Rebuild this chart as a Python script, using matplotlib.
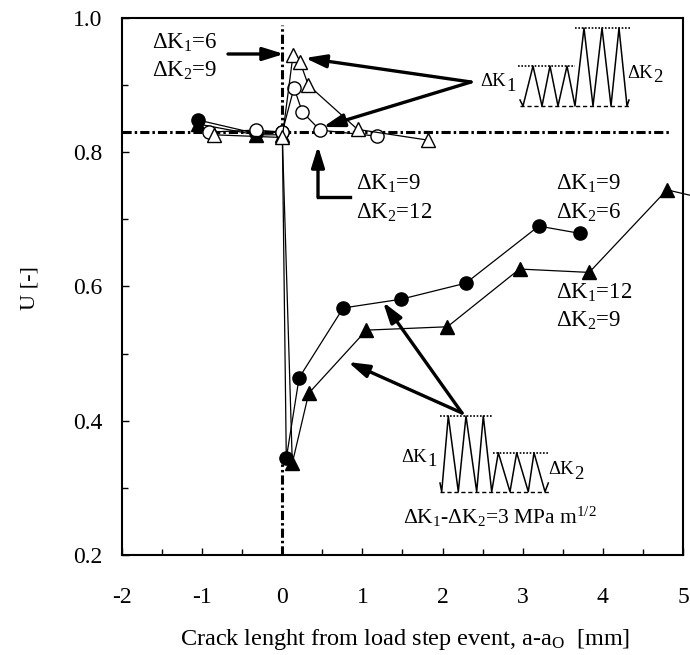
import matplotlib
matplotlib.use('Agg')
import matplotlib.pyplot as plt
import matplotlib.transforms as mtransforms
from matplotlib.patches import FancyArrowPatch
from matplotlib.ticker import MultipleLocator

plt.rcParams['font.family'] = ['Liberation Serif', 'DejaVu Serif']
plt.rcParams['mathtext.fontset'] = 'custom'
plt.rcParams['mathtext.rm'] = 'Liberation Serif'
plt.rcParams['mathtext.it'] = 'Liberation Serif:italic'
plt.rcParams['mathtext.bf'] = 'Liberation Serif:bold'

# ---------------- data ----------------
# filled circles: dK1=9, dK2=6
fc_x = [-1.05, -0.33, 0.0, 0.05, 0.21, 0.76, 1.48, 2.29, 3.20, 3.72]
fc_y = [0.848, 0.828, 0.830, 0.344, 0.464, 0.568, 0.581, 0.605, 0.690, 0.679]
# filled triangles: dK1=12, dK2=9
ft_x = [-1.05, -0.33, 0.0, 0.125, 0.33, 1.05, 2.06, 2.96, 3.83, 4.80, 5.30]
ft_y = [0.842, 0.826, 0.826, 0.337, 0.441, 0.535, 0.540, 0.626, 0.621, 0.744, 0.730]
# open circles: dK1=9, dK2=12
oc_x = [-0.92, -0.33, 0.0, 0.146, 0.25, 0.47, 1.18]
oc_y = [0.830, 0.833, 0.830, 0.896, 0.860, 0.833, 0.824]
# open triangles: dK1=6, dK2=9
ot_x = [-0.85, 0.0, 0.134, 0.22, 0.325, 0.94, 1.82]
ot_y = [0.826, 0.822, 0.945, 0.935, 0.900, 0.834, 0.818]

u_ref = 0.83
x_ticks = [-2, -1, 0, 1, 2, 3, 4, 5]
y_ticks = [0.2, 0.4, 0.6, 0.8, 1.0]

FS_TICK = 17
FS_ANN = 16.5
FS_SCH = 13.5

fig = plt.figure(figsize=(6.9, 6.55), dpi=100)
fig.patch.set_facecolor('white')
ax = fig.add_axes([122/690, 1-555/655, 561/690, 537/655])
# pixel transform for decorations (origin top-left)
pix = mtransforms.Affine2D().scale(1/690, -1/655).translate(0, 1) + fig.transFigure

ax.set_xlim(-2, 5)
ax.set_ylim(0.2, 1.0)

# reference dash-dot lines
dd = (0, (3, 1, 0.8, 1))
ax.plot([-2, 4.84], [u_ref, u_ref], color='black', lw=2.2, linestyle=dd, zorder=1)
ax.plot([0, 0], [0.2, 0.335], color='black', lw=2.2, linestyle=dd, zorder=1)
ax.plot([0, 0], [u_ref, 0.99], color='black', lw=2.2, linestyle=dd, zorder=1)

# series
ax.plot(fc_x, fc_y, color='black', lw=0.9, marker='o', ms=9.5, mfc='black', mec='black', zorder=3)
ax.plot(ft_x, ft_y, color='black', lw=0.9, marker='^', ms=10, mfc='black', mec='black', zorder=3, clip_on=False)
ax.plot(oc_x, oc_y, color='black', lw=0.9, marker='o', ms=9.5, mfc='white', mec='black', mew=1.0, zorder=4)
ax.plot(ot_x, ot_y, color='black', lw=0.9, marker='^', ms=10, mfc='white', mec='black', mew=1.0, zorder=5)

# axes style
for s in ax.spines.values():
    s.set_linewidth(1.5)
ax.set_xticks(x_ticks)
ax.set_xticklabels([str(v) for v in x_ticks])
ax.set_yticks(y_ticks)
ax.set_yticklabels(['%.1f' % v for v in y_ticks])
ax.xaxis.set_minor_locator(MultipleLocator(0.5))
ax.yaxis.set_minor_locator(MultipleLocator(0.1))
ax.tick_params(axis='both', which='both', direction='in', width=1.0, labelsize=FS_TICK)
ax.tick_params(axis='both', which='major', length=5)
ax.tick_params(axis='both', which='minor', length=4.5)
ax.tick_params(axis='x', which='major', pad=23)
ax.tick_params(axis='y', which='major', pad=14)

fig.text(30, 288, 'U [-]', transform=pix, rotation=90, ha='center', va='center', fontsize=16)
fig.text(405, 639, 'Crack lenght from load step event, a-a$_\\mathrm{O}$  [mm]', transform=pix,
         ha='center', va='center', fontsize=17.5)

# annotation texts
def txt(x, y, s, size=FS_ANN, **kw):
    return fig.text(x, y, s, transform=pix, fontsize=size, **kw)

txt(152, 57, 'ΔK$_1$=6\nΔK$_2$=9', ha='left', va='center', linespacing=1.3)
txt(356, 198, 'ΔK$_1$=9\nΔK$_2$=12', ha='left', va='center', linespacing=1.38)
txt(556, 198, 'ΔK$_1$=9\nΔK$_2$=6', ha='left', va='center', linespacing=1.38)
txt(556, 307, 'ΔK$_1$=12\nΔK$_2$=9', ha='left', va='center', linespacing=1.3)
txt(500, 517, 'ΔK$_1$-ΔK$_2$=3 MPa m$^{1/2}$', size=15.5, ha='center', va='center')


def dk_label(x, y, sub):
    t = txt(x, y, 'ΔK', size=FS_SCH, ha='left', va='center')
    ax.annotate(sub, xy=(1, 0.5), xycoords=t, xytext=(0.4, -3.5), textcoords='offset points',
                fontsize=FS_SCH, ha='left', va='center', annotation_clip=False)

# schematic labels
dk_label(480, 82, '1')
dk_label(627, 73, '2')
dk_label(401, 457, '1')
dk_label(548, 470, '2')

# schematic waveforms (pixel coordinates of decoration)
up_wx = [520, 523, 533, 542, 550, 558, 567, 575, 584, 593, 602, 611, 619, 627, 629]
up_wy = [100, 106, 66, 106, 66, 106, 66, 106, 28, 106, 28, 106, 28, 106, 100]
fig.add_artist(plt.Line2D(up_wx, up_wy, transform=pix, color='black', lw=1.1))
fig.add_artist(plt.Line2D([518, 575], [66, 66], transform=pix, color='black', lw=1.2, linestyle=(0, (1, 1))))
fig.add_artist(plt.Line2D([575, 630], [28, 28], transform=pix, color='black', lw=1.2, linestyle=(0, (1, 1))))
fig.add_artist(plt.Line2D([520, 630], [106, 106], transform=pix, color='black', lw=1.0, linestyle=(0, (3, 2))))

lo_wx = [440, 441.7, 448.3, 458.3, 466, 476.7, 483.3, 491.7, 498.3, 510, 516.7, 528.3, 534, 545, 548.3]
lo_wy = [483, 491.7, 416, 491.7, 416, 491.7, 416, 491.7, 452.7, 491.7, 452.7, 491.7, 452.7, 491.7, 483]
fig.add_artist(plt.Line2D(lo_wx, lo_wy, transform=pix, color='black', lw=1.1))
fig.add_artist(plt.Line2D([440, 493], [416, 416], transform=pix, color='black', lw=1.2, linestyle=(0, (1, 1))))
fig.add_artist(plt.Line2D([493, 549], [452.7, 452.7], transform=pix, color='black', lw=1.2, linestyle=(0, (1, 1))))
fig.add_artist(plt.Line2D([440, 550], [491.7, 491.7], transform=pix, color='black', lw=1.0, linestyle=(0, (3, 2))))

# arrows
def arrow(p0, p1, lw=2.4):
    a = FancyArrowPatch(p0, p1, transform=pix, arrowstyle='-|>,head_length=0.9,head_width=0.28',
                        mutation_scale=14, lw=lw, color='black', shrinkA=0, shrinkB=0, zorder=6)
    fig.add_artist(a)

arrow((228, 54), (284, 54))
arrow((471, 82), (305, 58))
arrow((471, 82), (323, 127))
fig.add_artist(plt.Line2D([350, 318], [197, 197], transform=pix, color='black', lw=2.4,
                          solid_joinstyle='miter'))
arrow((318, 197), (318, 146))
arrow((462, 413), (383, 302))
arrow((462, 413), (348, 362))

fig.savefig('out.png', dpi=100, facecolor='white')
